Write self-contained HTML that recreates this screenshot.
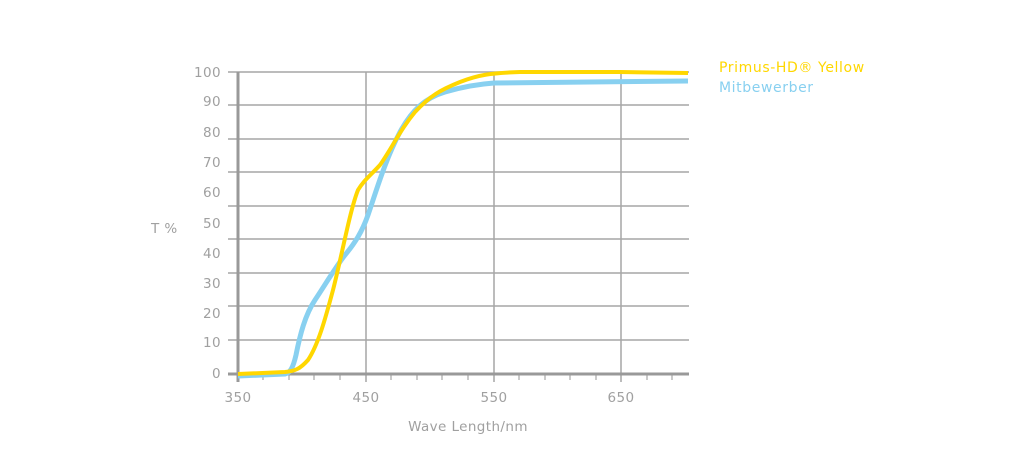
<!DOCTYPE html>
<html><head><meta charset="utf-8"><style>body{margin:0;background:#fff}svg{display:block}text{font-family:"DejaVu Sans","Liberation Sans",sans-serif;fill:#a0a0a0;font-size:13.5px;letter-spacing:0.4px}</style></head><body>
<svg width="1024" height="457" xmlns="http://www.w3.org/2000/svg">
<g stroke="#a6a6a6" stroke-width="1.5">
<line x1="228" y1="72" x2="689" y2="72"/><line x1="228" y1="105" x2="689" y2="105"/><line x1="228" y1="139" x2="689" y2="139"/><line x1="228" y1="172" x2="689" y2="172"/><line x1="228" y1="206" x2="689" y2="206"/><line x1="228" y1="239" x2="689" y2="239"/><line x1="228" y1="273" x2="689" y2="273"/><line x1="228" y1="306" x2="689" y2="306"/><line x1="228" y1="340" x2="689" y2="340"/>
<line x1="366" y1="72" x2="366" y2="382"/><line x1="494" y1="72" x2="494" y2="382"/><line x1="621" y1="72" x2="621" y2="382"/>
<g stroke-width="1.2">
<line x1="263" y1="374" x2="263" y2="380"/><line x1="289" y1="374" x2="289" y2="380"/><line x1="314" y1="374" x2="314" y2="380"/><line x1="340" y1="374" x2="340" y2="380"/><line x1="391" y1="374" x2="391" y2="380"/><line x1="417" y1="374" x2="417" y2="380"/><line x1="442" y1="374" x2="442" y2="380"/><line x1="468" y1="374" x2="468" y2="380"/><line x1="519" y1="374" x2="519" y2="380"/><line x1="545" y1="374" x2="545" y2="380"/><line x1="570" y1="374" x2="570" y2="380"/><line x1="596" y1="374" x2="596" y2="380"/><line x1="647" y1="374" x2="647" y2="380"/><line x1="672" y1="374" x2="672" y2="380"/></g>
</g>
<line x1="238" y1="72" x2="238" y2="382" stroke="#999" stroke-width="3"/>
<line x1="228" y1="374" x2="689" y2="374" stroke="#999" stroke-width="3"/>
<path d="M238,376 L285,374 C290,373 293,368 296,355 C300,335 305,315 315,300 C325,285 335,268 345,255 C355,243 362,232 368,215 C375,195 385,160 400,132 C412,110 425,98 445,92 C465,86 480,84 494,83 L688,81" fill="none" stroke="#88d0f0" stroke-width="5"/>
<path d="M238,374 L285,372 C295,371 300,369 308,360 C318,345 325,320 333,290 C342,255 350,210 358,190 C364,180 370,176 380,165 C392,148 400,130 415,112 C430,96 440,90 460,82 C478,75 490,73 520,72 L620,72 L688,73" fill="none" stroke="#ffd700" stroke-width="4"/>
<g text-anchor="end"><text x="221" y="77">100</text><text x="221" y="106">90</text><text x="221" y="137">80</text><text x="221" y="167">70</text><text x="221" y="197">60</text><text x="221" y="228">50</text><text x="221" y="258">40</text><text x="221" y="288">30</text><text x="221" y="318">20</text><text x="221" y="347">10</text><text x="221" y="378">0</text></g>
<text x="151" y="233">T %</text>
<g text-anchor="middle"><text x="238" y="402">350</text><text x="366" y="402">450</text><text x="494" y="402">550</text><text x="621" y="402">650</text><text x="468" y="431">Wave Length/nm</text></g>
<text x="719" y="72" style="fill:#ffd700;font-size:14px;letter-spacing:0.6px">Primus-HD® Yellow</text>
<text x="719" y="92" style="fill:#88d0f0;font-size:14px;letter-spacing:0.6px">Mitbewerber</text>
</svg></body></html>
